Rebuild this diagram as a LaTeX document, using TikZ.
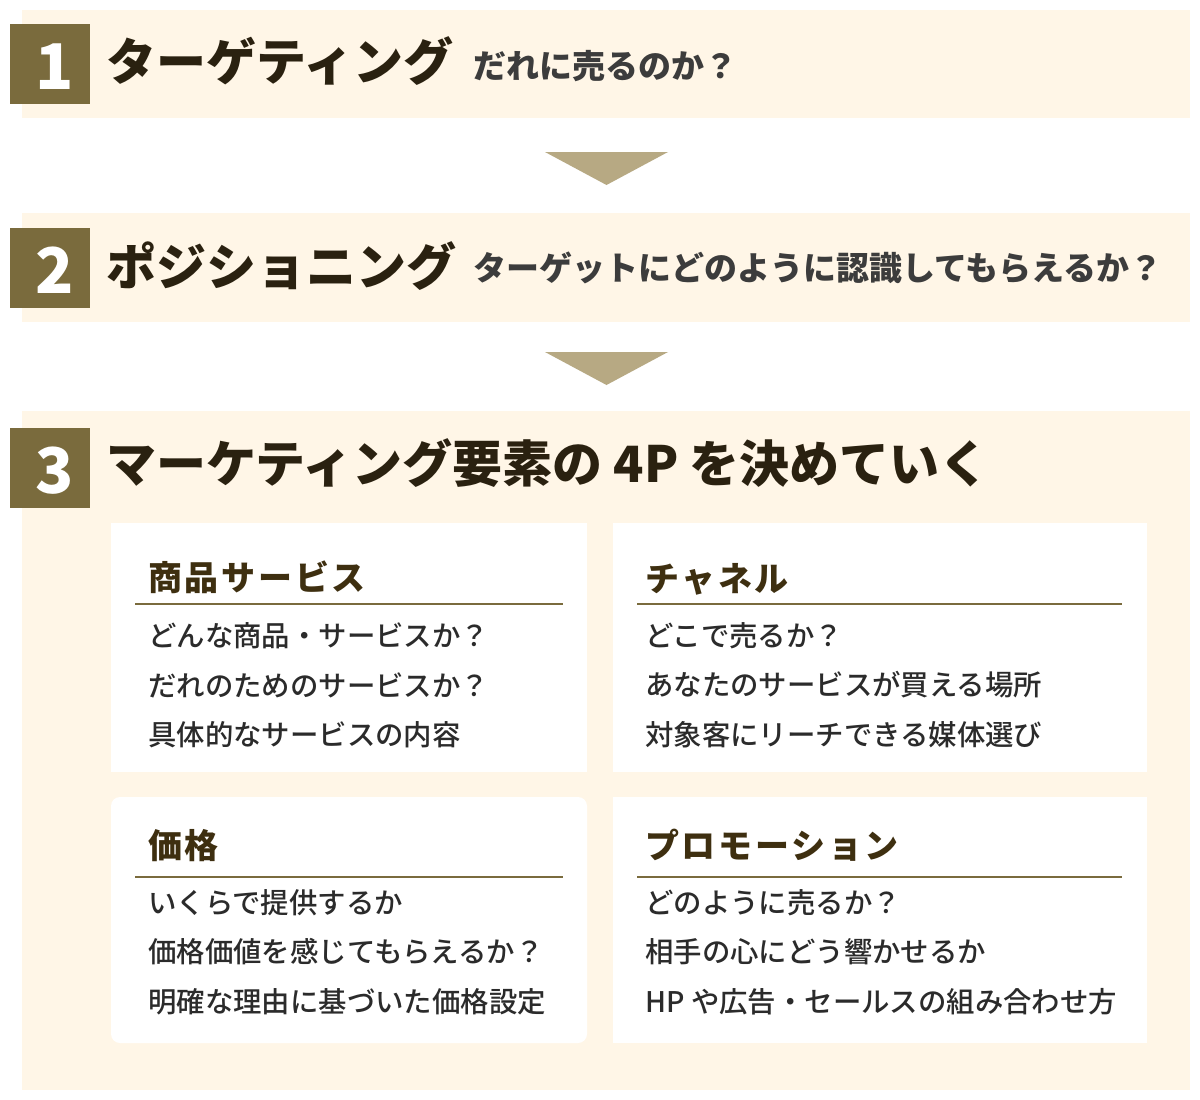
\documentclass[tikz,border=0pt]{standalone}
\usepackage{fontspec}
\newfontfamily\jp{Noto Sans CJK JP}
\newfontfamily\jpm{Noto Sans CJK JP Medium}
\newfontfamily\jpsp{Noto Sans CJK JP}[LetterSpace=8]
\definecolor{bandc}{HTML}{FFF6E7}
\definecolor{boxc}{HTML}{7A6B3D}
\definecolor{arrowc}{HTML}{B7A983}
\definecolor{titlec}{HTML}{2A2110}
\definecolor{subc}{HTML}{3C3C3C}
\definecolor{cheadc}{HTML}{3E2F10}
\definecolor{bodyc}{HTML}{2B2B2B}
\tikzset{
  band/.style={fill=bandc, draw=none, anchor=north west, minimum width=1168pt, inner sep=0pt, outer sep=0pt},
  numbox/.style={fill=boxc, minimum width=80pt, minimum height=80pt, inner sep=0pt},
  digit/.style={anchor=base, inner sep=0pt, text=white, font=\jp\bfseries\fontsize{63}{70}\selectfont},
  title/.style={anchor=west, inner sep=0pt, text=titlec, font=\jp\bfseries\fontsize{50}{58}\selectfont},
  sub/.style={anchor=west, inner sep=0pt, text=subc, font=\jp\bfseries\fontsize{33}{40}\selectfont},
  card/.style={fill=white, draw=none, anchor=north west, inner sep=0pt, outer sep=0pt},
  chead/.style={anchor=west, inner sep=0pt, text=cheadc, font=\jpsp\bfseries\fontsize{34}{40}\selectfont},
  body/.style={anchor=west, inner sep=0pt, text=bodyc, font=\jpm\fontsize{28.4}{34}\selectfont},
  divider/.style={draw=boxc, line width=1.2pt},
  tri/.style={fill=arrowc, draw=none}
}
\begin{document}
\begin{tikzpicture}[x=1pt,y=-1pt]
\useasboundingbox (0,0) rectangle (1200,1100);
\fill[white] (0,0) rectangle (1200,1100);
% bands
\node[band, minimum height=108pt] (b1) at (22,10) {};
\node[band, minimum height=109pt] (b2) at (22,213) {};
\node[band, minimum height=679pt] (b3) at (22,411) {};
% number boxes
\node[numbox] (n1) at (50,64) {};
\node[numbox] (n2) at (50,268) {};
\node[numbox] (n3) at (50,467.5) {};
\node[digit] (d1) at (55,89) {1};
\node[digit] (d2) at (55,293) {2};
\node[digit] (d3) at (55,493) {3};
% titles
\node[title] (t1) at (106,61) {ターゲティング};
\node[sub] (s1) at (473,66) {だれに売るのか？};
\node[title] (t2) at (106,266) {ポジショニング};
\node[sub] (s2) at (473,268) {ターゲットにどのように認識してもらえるか？};
\node[title] (t3) at (106,463) {マーケティング要素の 4P を決めていく};
% arrows
\fill[tri] (545,152) -- (668,152) -- (606.5,185) -- cycle;
\fill[tri] (545,352) -- (668,352) -- (606.5,385) -- cycle;
% cards
\node[card, minimum width=476pt, minimum height=249pt] (c1) at (111,523) {};
\node[card, minimum width=534pt, minimum height=249pt] (c2) at (613,523) {};
\node[card, minimum width=476pt, minimum height=246pt, rounded corners=9pt] (c3) at (111,797) {};
\node[card, minimum width=534pt, minimum height=246pt] (c4) at (613,797) {};
% card 1
\node[chead] (h1) at (148,577) {商品サービス};
\draw[divider] (135,604) -- (563,604);
\node[body] (l11) at (148,636) {どんな商品・サービスか？};
\node[body] (l12) at (148,685) {だれのためのサービスか？};
\node[body] (l13) at (148,735) {具体的なサービスの内容};
% card 2
\node[chead] (h2) at (645,579) {チャネル};
\draw[divider] (637,604) -- (1122,604);
\node[body] (l21) at (645,636) {どこで売るか？};
\node[body] (l22) at (645,685) {あなたのサービスが買える場所};
\node[body] (l23) at (645,735) {対象客にリーチできる媒体選び};
% card 3
\node[chead] (h3) at (148,846) {価格};
\draw[divider] (135,877) -- (563,877);
\node[body] (l31) at (148,903) {いくらで提供するか};
\node[body] (l32) at (148,952) {価格価値を感じてもらえるか？};
\node[body] (l33) at (148,1002) {明確な理由に基づいた価格設定};
% card 4
\node[chead] (h4) at (645,845) {プロモーション};
\draw[divider] (637,877) -- (1122,877);
\node[body] (l41) at (645,903) {どのように売るか？};
\node[body] (l42) at (645,952) {相手の心にどう響かせるか};
\node[body] (l43) at (645,1002) {HP や広告・セールスの組み合わせ方};
\end{tikzpicture}
\end{document}
